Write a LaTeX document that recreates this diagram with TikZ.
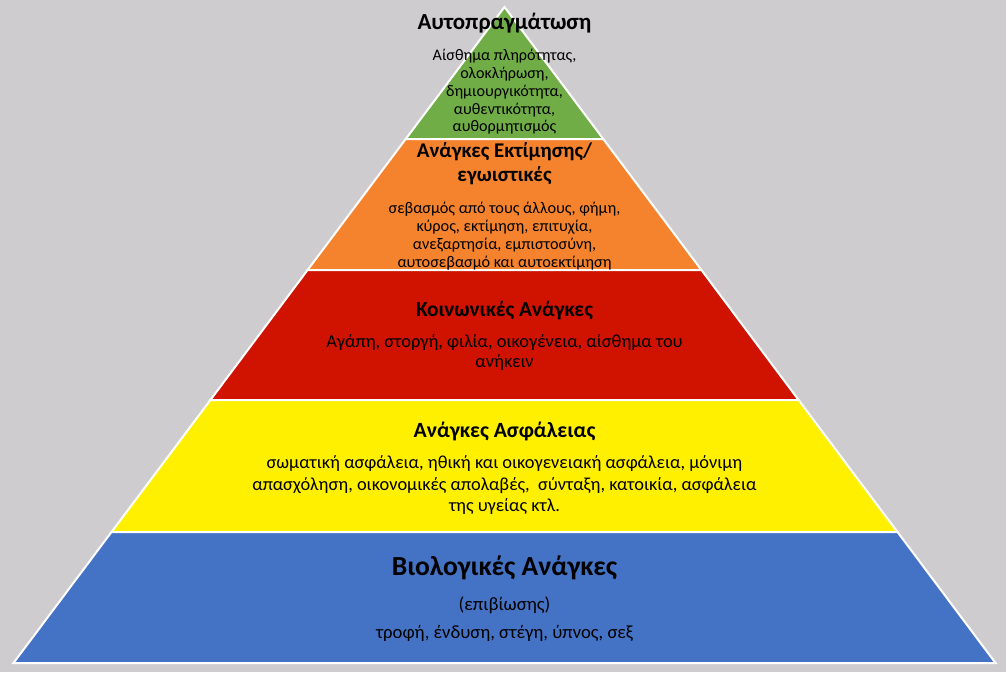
\documentclass[tikz,border=0pt]{standalone}
\usepackage{fontspec}
\setmainfont{Carlito}

\definecolor{bggrey}{RGB}{206,204,207}
\definecolor{lvlgreen}{RGB}{112,173,71}
\definecolor{lvlorange}{RGB}{245,131,46}
\definecolor{lvlred}{RGB}{208,18,0}
\definecolor{lvlyellow}{RGB}{255,240,0}
\definecolor{lvlblue}{RGB}{68,114,196}

\tikzset{
  layer/.style={draw=white, line width=1.5pt, line join=miter},
  ttl/.style={font=\bfseries\fontsize{16}{18}\selectfont, align=center, inner sep=0pt},
  txt/.style={font=\fontsize{12.1}{13.3}\selectfont, align=center, inner sep=0pt}
}

\begin{document}
\begin{tikzpicture}[x=0.75pt, y=-0.75pt]
    \fill[bggrey] (0, 0) rectangle (1006, 672);
    \useasboundingbox (0, 0) rectangle (1006, 672);

    % layers, top to bottom
    \filldraw[layer, fill=lvlgreen] (504.5, 7) -- (603.3, 139) -- (405.7, 139) -- cycle;
    \filldraw[layer, fill=lvlorange] (405.7, 139) -- (603.3, 139) -- (701.4, 270) -- (307.6, 270) -- cycle;
    \filldraw[layer, fill=lvlred] (307.6, 270) -- (701.4, 270) -- (798.6, 400) -- (210.4, 400) -- cycle;
    \filldraw[layer, fill=lvlyellow] (210.4, 400) -- (798.6, 400) -- (897.5, 532) -- (111.5, 532) -- cycle;
    \filldraw[layer, fill=lvlblue] (111.5, 532) -- (897.5, 532) -- (995.5, 663) -- (13.5, 663) -- cycle;

    \node[ttl, font=\bfseries\fontsize{17.2}{21}\selectfont] (selfTitle) at (504.5, 23) {Αυτοπραγμάτωση};
    \node[txt] (selfText) at (504.5, 92) {Αίσθημα πληρότητας,\\ολοκλήρωση,\\δημιουργικότητα,\\αυθεντικότητα,\\αυθορμητισμός};

    \node[ttl, font=\bfseries\fontsize{15.7}{18}\selectfont] (esteemTitle) at (504.5, 164) {Ανάγκες Εκτίμησης/\\εγωιστικές};
    \node[txt, font=\fontsize{12.2}{13.5}\selectfont] (esteemText) at (504.5, 236) {σεβασμός από τους άλλους, φήμη,\\κύρος, εκτίμηση, επιτυχία,\\ανεξαρτησία, εμπιστοσύνη,\\αυτοσεβασμό και αυτοεκτίμηση};

    \node[ttl] (socialTitle) at (504.5, 311) {Κοινωνικές Ανάγκες};
    \node[txt, font=\fontsize{13.8}{15}\selectfont] (socialText) at (504.5, 352) {Αγάπη, στοργή, φιλία, οικογένεια, αίσθημα του\\ανήκειν};

    \node[ttl, font=\bfseries\fontsize{16.3}{18}\selectfont] (safetyTitle) at (504.5, 431) {Ανάγκες Ασφάλειας};
    \node[txt, font=\fontsize{13.8}{16.1}\selectfont] (safetyText) at (504.5, 485) {σωματική ασφάλεια, ηθική και οικογενειακή ασφάλεια, μόνιμη\\απασχόληση, οικονομικές απολαβές,\ \ σύνταξη, κατοικία, ασφάλεια\\της υγείας κτλ.};

    \node[ttl, font=\bfseries\fontsize{20.7}{24}\selectfont] (bioTitle) at (504.5, 568) {Βιολογικές Ανάγκες};
    \node[txt, font=\fontsize{14.1}{16}\selectfont] (bioSub) at (504.5, 605) {(επιβίωσης)};
    \node[txt, font=\fontsize{14}{16}\selectfont] (bioText) at (504.5, 633) {τροφή, ένδυση, στέγη, ύπνος, σεξ};
\end{tikzpicture}
\end{document}
